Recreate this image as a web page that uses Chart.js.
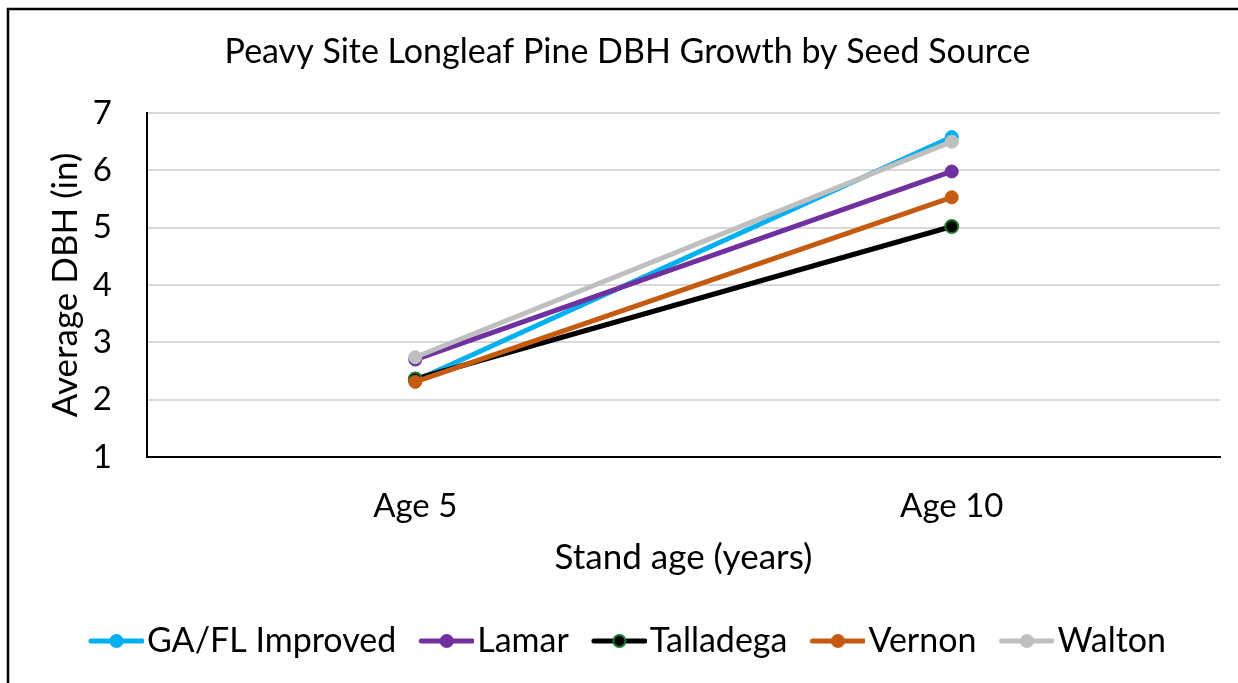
<!DOCTYPE html>
<html>
<head>
<meta charset="utf-8">
<script src="https://cdn.jsdelivr.net/npm/chart.js@4"></script>
<style>
  html, body { margin: 0; padding: 0; background: #fff; }
  #wrap { position: relative; width: 1238px; height: 683px; }
</style>
</head>
<body>
<div id="wrap"><canvas id="c" width="1238" height="683"></canvas></div>
<script>
// ---- data ----
const categories = ['Age 5', 'Age 10'];
const seriesNames = ['GA/FL Improved', 'Lamar', 'Talladega', 'Vernon', 'Walton'];
const gaFlImproved = [2.33, 6.58];
const lamar = [2.70, 5.98];
const talladega = [2.36, 5.02];
const vernon = [2.31, 5.53];
const walton = [2.74, 6.50];
const yTicks = [1, 2, 3, 4, 5, 6, 7];

// ---- styling ----
const colors = ['#00B0F0', '#7030A0', '#000000', '#C55A11', '#BFBFBF'];
const markerBorders = ['#00B0F0', '#7030A0', '#1E7B2E', '#C55A11', '#BFBFBF'];
const FONT = 'Lato, "DejaVu Sans", sans-serif';

// legend icon: line with a round marker; transparent margin on the left so
// the visible icon starts at the legend item's left edge
function legendIcon(color, border) {
  const cv = document.createElement('canvas');
  cv.width = 69; cv.height = 16;
  const g = cv.getContext('2d');
  g.strokeStyle = color; g.lineWidth = 5; g.lineCap = 'round';
  g.beginPath(); g.moveTo(16, 8); g.lineTo(67, 8); g.stroke();
  g.beginPath(); g.arc(41.5, 8, 6, 0, Math.PI * 2);
  g.fillStyle = color; g.fill();
  g.lineWidth = 2; g.strokeStyle = border; g.stroke();
  return cv;
}
const icons = colors.map((c, i) => legendIcon(c, markerBorders[i]));

const allSeries = [gaFlImproved, lamar, talladega, vernon, walton];
const datasets = allSeries.map((vals, i) => ({
  label: seriesNames[i],
  data: vals,
  borderColor: colors[i],
  backgroundColor: colors[i],
  borderWidth: 5,
  pointRadius: 6.5,
  pointHoverRadius: 6.5,
  pointBackgroundColor: colors[i],
  pointBorderColor: markerBorders[i],
  pointBorderWidth: i === 2 ? 2 : 1,
  order: allSeries.length - 1 - i,
  tension: 0
}));

const framePlugin = {
  id: 'frame',
  beforeDraw(chart) {
    const ctx = chart.ctx;
    ctx.save();
    ctx.fillStyle = '#fff';
    ctx.fillRect(0, 0, chart.width, chart.height);
    ctx.strokeStyle = '#000';
    ctx.lineWidth = 2.5;
    ctx.beginPath();
    ctx.moveTo(8, chart.height + 5);
    ctx.lineTo(8, 9);
    ctx.lineTo(chart.width + 5, 9);
    ctx.stroke();
    ctx.restore();
  }
};

new Chart(document.getElementById('c'), {
  type: 'line',
  data: { labels: categories, datasets },
  plugins: [framePlugin],
  options: {
    responsive: false,
    animation: false,
    events: [],
    layout: { padding: { left: 35, right: 18, top: 0, bottom: 15 } },
    plugins: {
      tooltip: { enabled: false },
      title: {
        display: true,
        text: 'Peavy Site Longleaf Pine DBH Growth by Seed Source',
        color: '#000',
        font: { family: FONT, size: 34, weight: 'normal', lineHeight: 1.2 },
        padding: { top: 31.6, bottom: 40.6 }
      },
      legend: {
        display: true,
        position: 'bottom',
        labels: {
          color: '#000',
          font: { family: FONT, size: 34, lineHeight: 1.2 },
          usePointStyle: true,
          pointStyleWidth: 41,
          padding: 23,
          sort: (a, b) => a.datasetIndex - b.datasetIndex,
          generateLabels(chart) {
            const items = Chart.defaults.plugins.legend.labels.generateLabels(chart);
            items.forEach(it => { it.pointStyle = icons[it.datasetIndex]; });
            return items;
          }
        }
      }
    },
    scales: {
      x: {
        offset: true,
        grid: { display: false, drawTicks: false },
        border: { display: true, color: '#000', width: 2 },
        ticks: { color: '#000', padding: 30, font: { family: FONT, size: 33, lineHeight: 1.2 } },
        title: {
          display: true,
          text: 'Stand age (years)',
          color: '#000',
          font: { family: FONT, size: 35, lineHeight: 1.2 },
          padding: { top: 0, bottom: 22 }
        },
        afterFit(scale) { scale.height = 144; }
      },
      y: {
        min: 1,
        max: 7,
        afterBuildTicks(scale) { scale.ticks = yTicks.map(v => ({ value: v })); },
        grid: { color: '#D9D9D9', lineWidth: 2, drawTicks: false },
        border: { display: true, color: '#000', width: 2 },
        ticks: { color: '#000', padding: 35, font: { family: FONT, size: 33, lineHeight: 1.2 } },
        title: {
          display: true,
          text: 'Average DBH (in)',
          color: '#000',
          font: { family: FONT, size: 35, lineHeight: 1.2 },
          padding: { top: 10, bottom: 0 }
        },
        afterFit(scale) { scale.width = 112; }
      }
    }
  }
});
</script>
</body>
</html>
